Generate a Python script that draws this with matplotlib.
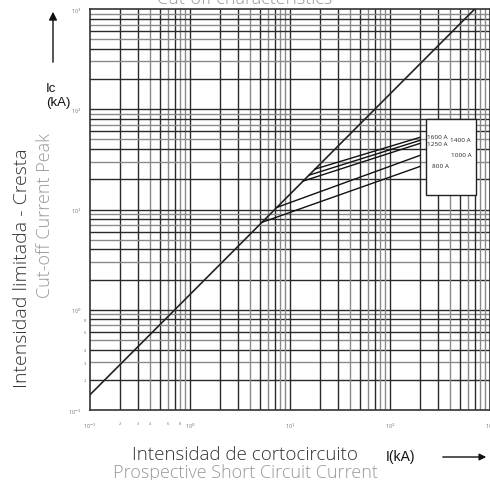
import matplotlib.pyplot as plt

# diagonal (unlimited peak) line
diag_x = [0.1, 704]
diag_y = [0.142, 1000]

# cut-off curves: branch point on the diagonal -> end point
fuse_names = ["800 A", "1000 A", "1250 A", "1400 A", "1600 A"]
fuse_x0 = [5.25, 7.4, 13.5, 15.5, 17.8]
fuse_y0 = [7.45, 10.5, 19.2, 22.0, 25.3]
fuse_x1 = [200, 200, 200, 200, 200]
fuse_y1 = [26.9, 34.7, 45.7, 49.0, 52.5]

major = [0.1, 1, 10, 100, 1000]
major_labels = ["10$^{-1}$", "10$^{0}$", "10$^{1}$", "10$^{2}$", "10$^{3}$"]
minor_labeled = [0.2, 0.3, 0.4, 0.6, 0.8]
minor_text = ["2", "3", "4", "6", "8"]

FONT = ["Open Sans", "DejaVu Sans"]
SANS = ["Liberation Sans", "DejaVu Sans"]

fig = plt.figure(figsize=(4.9, 4.81), dpi=100)
ax = fig.add_axes([90 / 490, 70 / 481, 400 / 490, 401 / 481])
ax.set_xscale("log")
ax.set_yscale("log")
ax.set_xlim(0.1, 1000)
ax.set_ylim(0.1, 1000)

# grid lines, drawn by hand so the dark/grey alternation matches
dark_x = [2, 3, 5, 7, 10]
dark_y = [2, 4, 6, 8, 10]
for dec in [0.1, 1, 10, 100]:
    for m in range(2, 11):
        v = dec * m
        cx = "#2a2a2a" if m in dark_x else "#8a8a8a"
        cy = "#2a2a2a" if m in dark_y else "#8a8a8a"
        if v < 1000:
            ax.axvline(v, color=cx, lw=1.0, zorder=1)
            ax.axhline(v, color=cy, lw=1.0, zorder=1)

ax.plot(diag_x, diag_y, color="#222222", lw=1.2, zorder=3)
for x0, y0, x1, y1 in zip(fuse_x0, fuse_y0, fuse_x1, fuse_y1):
    ax.plot([x0, x1], [y0, y1], color="#111111", lw=1.0, zorder=3)

# legend box
ax.add_patch(plt.Rectangle((229, 14.1), 724 - 229, 79.4 - 14.1, facecolor="white",
                           edgecolor="#222222", lw=1.0, zorder=4))
lab_pos = {"1600 A": (233, 53), "1250 A": (233, 46), "1400 A": (400, 49.5),
           "1000 A": (405, 35), "800 A": (262, 27.5)}
for name in fuse_names:
    px, py = lab_pos[name]
    ax.text(px, py, name, fontsize=4.6, color="#222222", family=FONT,
            ha="left", va="center", zorder=5)

for s in ax.spines.values():
    s.set_color("#333333")
    s.set_linewidth(1.2)
ax.tick_params(which="both", length=0, labelsize=4, colors="#777777", pad=8)
ax.set_xticks(major)
ax.set_xticklabels(major_labels, family=FONT)
ax.set_yticks(major)
ax.set_yticklabels(major_labels, family=FONT)
ax.set_xticks(minor_labeled, minor=True)
ax.set_xticklabels(minor_text, minor=True, family=FONT, fontsize=3)
ax.set_yticks(minor_labeled, minor=True)
ax.set_yticklabels(minor_text, minor=True, family=FONT, fontsize=3)
ax.tick_params(axis="y", which="minor", pad=3)
ax.tick_params(axis="y", which="major", pad=6)

# titles and labels
fig.text(0.5, 473 / 481, "Cut-off characteristics", fontsize=13, color="#999999",
         family=FONT, fontweight="light", ha="center", va="bottom")
fig.text(22 / 490, 213 / 481, "Intensidad limitada - Cresta", rotation=90, fontsize=14,
         color="#333333", family=FONT, fontweight="light", ha="center", va="center")
fig.text(45 / 490, 265 / 481, "Cut-off Current Peak", rotation=90, fontsize=13,
         color="#999999", family=FONT, fontweight="light", ha="center", va="center")
fig.text(245 / 490, 26 / 481, "Intensidad de cortocircuito", fontsize=13.5,
         color="#333333", family=FONT, fontweight="light", ha="center", va="center")
fig.text(245 / 490, 8 / 481, "Prospective Short Circuit Current", fontsize=13,
         color="#999999", family=FONT, fontweight="light", ha="center", va="center")
fig.text(46 / 490, 385 / 481, "Ic\n(kA)", fontsize=9.5, color="#111111",
         family=SANS, ha="left", va="center", linespacing=1.3)
fig.text(400 / 490, 24 / 481, "I(kA)", fontsize=10, color="#111111",
         family=SANS, ha="center", va="center")

ax.annotate("", xy=(53 / 490, 471 / 481), xytext=(53 / 490, 415 / 481),
            xycoords="figure fraction", textcoords="figure fraction",
            arrowprops=dict(arrowstyle="-|>", color="#111111", lw=1.0, mutation_scale=12))
ax.annotate("", xy=(489 / 490, 23 / 481), xytext=(440 / 490, 23 / 481),
            xycoords="figure fraction", textcoords="figure fraction",
            arrowprops=dict(arrowstyle="-|>", color="#111111", lw=1.0, mutation_scale=10))

fig.savefig("out.png", dpi=100)
